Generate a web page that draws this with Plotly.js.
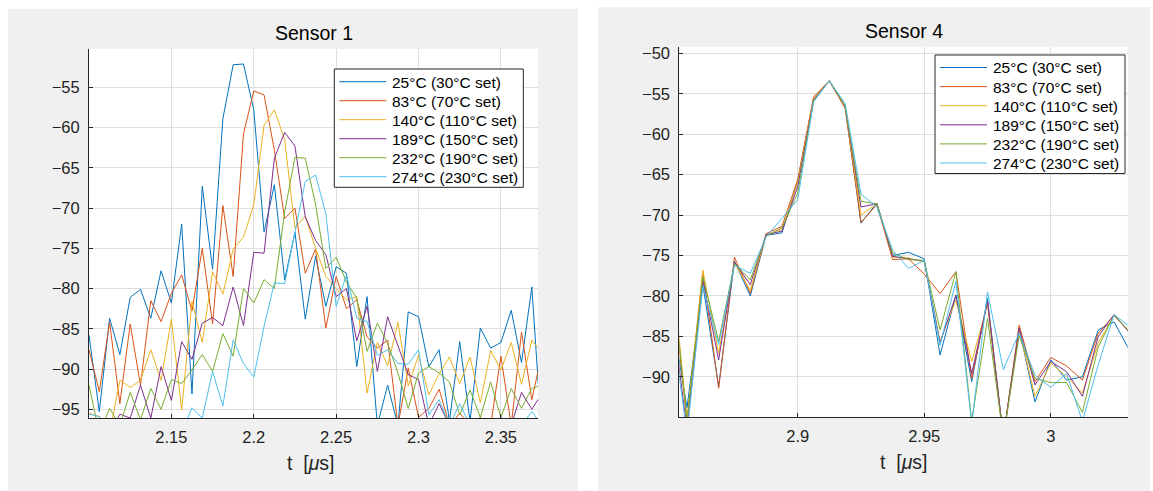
<!DOCTYPE html>
<html>
<head>
<meta charset="utf-8">
<script src="https://cdn.plot.ly/plotly-3.0.1.min.js"></script>
<style>
html,body{margin:0;padding:0;background:#ffffff;}
#chart{width:1153px;height:491px;}
</style>
</head>
<body>
<div id="chart"></div>
<script>
// ---------- data ----------
const seriesNames = ['25°C (30°C set)','83°C (70°C set)','140°C (110°C set)','189°C (150°C set)','232°C (190°C set)','274°C (230°C set)'];
const seriesColors = ['#0072BD','#D95319','#EDB120','#7E2F8E','#77AC30','#4DBEEE'];

// Sensor 1 time samples [µs]
const tSensor1 = [2.1,2.10625,2.1125,2.11875,2.125,2.13125,2.1375,2.14375,2.15,2.15625,2.1625,2.16875,2.175,2.18125,2.1875,2.19375,2.2,2.20625,2.2125,2.21875,2.225,2.23125,2.2375,2.24375,2.25,2.25625,2.2625,2.26875,2.275,2.28125,2.2875,2.29375,2.3,2.30625,2.3125,2.31875,2.325,2.33125,2.3375,2.34375,2.35,2.35625,2.3625,2.36875,2.375];

const s1_25C  = [-85.8,-95.3,-83.7,-88.2,-81.1,-80.1,-83.7,-77.8,-81.8,-72.0,-93.1,-67.3,-77.6,-58.9,-52.2,-52.1,-57.8,-73.0,-67.1,-78.9,-73.0,-83.8,-76.0,-82.2,-77.3,-78.1,-89.7,-81.0,-97.0,-92.0,-97.0,-82.9,-83.5,-89.7,-87.6,-96.5,-86.6,-96.5,-84.9,-87.4,-86.7,-82.7,-89.2,-79.8,-99.0];
const s1_83C  = [-87.6,-92.8,-84.2,-94.3,-84.4,-92.0,-81.5,-84.1,-80.6,-78.3,-82.8,-75.0,-84.4,-69.7,-78.5,-60.8,-55.45,-55.95,-62.8,-71.3,-70.0,-78.1,-75.1,-84.9,-78.5,-82.5,-81.4,-86.0,-87.4,-86.4,-97.0,-89.9,-96.0,-94.9,-92.5,-97.0,-95.5,-97.0,-96.0,-97.0,-88.4,-97.0,-85.4,-93.8,-88.0];
const s1_140C = [-95.5,-95.9,-98.0,-91.4,-92.3,-91.4,-87.6,-91.4,-83.8,-95.1,-81.6,-86.7,-77.9,-80.7,-75.1,-73.6,-69.6,-59.7,-57.8,-61.5,-72.5,-71.0,-75.0,-78.5,-80.0,-81.4,-81.0,-93.0,-86.7,-89.6,-84.2,-92.1,-88.3,-93.2,-90.6,-88.5,-91.8,-88.5,-94.2,-87.7,-90.1,-86.7,-91.9,-86.4,-88.0];
const s1_189C = [-98.0,-98.0,-98.0,-95.6,-96.1,-92.0,-96.1,-89.7,-93.9,-86.6,-88.8,-84.3,-83.6,-84.6,-79.8,-84.6,-75.5,-75.6,-63.8,-60.6,-62.3,-71.1,-74.0,-75.8,-81.0,-80.0,-86.5,-82.2,-90.3,-83.5,-87.2,-90.7,-91.3,-97.0,-94.3,-97.0,-98.0,-97.0,-98.0,-97.0,-96.0,-97.0,-92.9,-95.0,-93.0];
const s1_232C = [-92.0,-98.0,-94.9,-97.0,-92.9,-96.3,-92.4,-95.0,-91.3,-91.8,-90.1,-88.2,-90.3,-85.6,-88.4,-80.0,-81.8,-78.9,-80.0,-70.5,-63.7,-63.8,-69.5,-77.5,-76.1,-79.2,-81.2,-87.8,-84.3,-86.8,-90.5,-94.9,-90.5,-89.7,-90.5,-91.6,-95.7,-92.6,-96.0,-91.6,-96.0,-92.4,-94.9,-92.4,-92.0];
const s1_274C = [-95.6,-95.9,-98.0,-98.0,-98.0,-98.0,-98.0,-98.0,-98.0,-98.0,-94.8,-96.1,-90.3,-94.6,-86.4,-89.3,-91.0,-84.7,-79.3,-79.4,-73.0,-66.7,-65.9,-70.7,-82.2,-78.3,-83.7,-84.1,-88.3,-87.6,-89.3,-89.4,-87.6,-95.7,-93.8,-97.0,-94.3,-97.0,-96.5,-97.0,-96.0,-97.0,-97.0,-95.3,-97.0];

// Sensor 4 time samples [µs]
const tSensor4 = [2.85,2.85625,2.8625,2.86875,2.875,2.88125,2.8875,2.89375,2.9,2.90625,2.9125,2.91875,2.925,2.93125,2.9375,2.94375,2.95,2.95625,2.9625,2.96875,2.975,2.98125,2.9875,2.99375,3.0,3.00625,3.0125,3.01875,3.025,3.03125];

const s4_25C  = [-82.0,-93.8,-78.6,-91.2,-75.7,-80.0,-72.5,-72.2,-65.8,-55.6,-53.4,-56.6,-71.0,-68.5,-75.0,-74.6,-75.4,-87.3,-79.9,-90.6,-80.3,-97.5,-84.0,-93.1,-87.9,-90.4,-90.0,-84.2,-83.2,-86.8];
const s4_83C  = [-77.1,-95.5,-77.0,-91.4,-75.2,-79.7,-72.3,-71.4,-65.6,-55.4,-53.4,-56.8,-70.9,-68.7,-75.5,-75.4,-77.3,-79.7,-77.0,-90.2,-80.7,-97.5,-83.6,-90.6,-87.6,-88.65,-90.4,-84.6,-82.4,-84.5];
const s4_140C = [-75.1,-95.3,-76.8,-87.1,-75.9,-79.3,-72.4,-71.8,-66.0,-55.6,-53.4,-56.7,-70.0,-68.6,-75.2,-75.3,-75.8,-85.6,-80.5,-88.1,-81.0,-97.5,-84.2,-92.4,-88.3,-90.0,-92.0,-85.8,-82.4,-84.5];
const s4_189C = [-81.2,-96.5,-78.0,-87.9,-75.8,-78.6,-72.4,-72.0,-66.5,-55.8,-53.4,-56.6,-69.0,-68.6,-75.1,-75.4,-75.7,-85.8,-79.9,-89.6,-80.7,-97.5,-84.0,-91.0,-88.1,-89.35,-92.4,-85.0,-82.3,-84.6];
const s4_232C = [-76.1,-95.5,-77.6,-85.6,-76.0,-78.0,-72.6,-71.6,-67.3,-55.9,-53.4,-56.5,-68.3,-68.6,-74.7,-75.5,-75.6,-84.2,-77.0,-95.5,-82.8,-97.5,-84.9,-90.2,-90.7,-90.7,-94.4,-86.3,-82.4,-84.4];
const s4_274C = [-82.7,-97.0,-78.8,-86.0,-76.2,-77.2,-72.7,-70.4,-68.1,-56.0,-53.4,-56.2,-67.4,-69.0,-74.3,-76.6,-75.6,-86.1,-78.2,-95.8,-79.5,-89.1,-84.6,-89.8,-91.3,-89.6,-95.5,-88.5,-82.3,-83.8];

// ticks
const s1XTicks = [2.15,2.2,2.25,2.3,2.35];
const s1XTickText = ['2.15','2.2','2.25','2.3','2.35'];
const s1YTicks = [-95,-90,-85,-80,-75,-70,-65,-60,-55];
const s4XTicks = [2.9,2.95,3];
const s4XTickText = ['2.9','2.95','3'];
const s4YTicks = [-90,-85,-80,-75,-70,-65,-60,-55,-50];

const sensor1Series = [s1_25C,s1_83C,s1_140C,s1_189C,s1_232C,s1_274C];
const sensor4Series = [s4_25C,s4_83C,s4_140C,s4_189C,s4_232C,s4_274C];

// ---------- figure ----------
const FONT = 'Arial, "Liberation Sans", Helvetica, sans-serif';
const AX = '#262626';
const minusText = v => v.map(n => (n < 0 ? '\u2212' : '') + Math.abs(n));

const traces = [];
sensor1Series.forEach((ys, i) => traces.push({
  type:'scatter', mode:'lines', x:tSensor1, y:ys, name:seriesNames[i],
  xaxis:'x', yaxis:'y', showlegend:false,
  line:{color:seriesColors[i], width:1}, hoverinfo:'skip'
}));
sensor4Series.forEach((ys, i) => traces.push({
  type:'scatter', mode:'lines', x:tSensor4, y:ys, name:seriesNames[i],
  xaxis:'x2', yaxis:'y2', showlegend:false,
  line:{color:seriesColors[i], width:1}, hoverinfo:'skip'
}));

const W = 1153, H = 491;
const px = v => v / W;
const py = v => 1 - v / H;

function axisBase(extra){
  return Object.assign({
    ticks:'inside', ticklen:4, tickwidth:1, tickcolor:AX,
    showline:true, linecolor:AX, linewidth:1, mirror:false,
    showgrid:true, gridcolor:'#dedede', gridwidth:1,
    zeroline:false, fixedrange:true,
    tickfont:{family:FONT, size:16.5, color:'#1f1f1f'}
  }, extra);
}

const shapes = [
  {type:'rect', xref:'paper', yref:'paper', x0:px(8), x1:px(578), y0:0, y1:py(9),
   fillcolor:'#f0f0f0', line:{width:0}, layer:'below'},
  {type:'rect', xref:'paper', yref:'paper', x0:px(598), x1:px(1150), y0:0, y1:py(7),
   fillcolor:'#f0f0f0', line:{width:0}, layer:'below'},
  {type:'rect', xref:'x domain', yref:'y domain', x0:0, x1:1, y0:0, y1:1,
   fillcolor:'#ffffff', line:{width:0}, layer:'below'},
  {type:'rect', xref:'x2 domain', yref:'y2 domain', x0:0, x1:1, y0:0, y1:1,
   fillcolor:'#ffffff', line:{width:0}, layer:'below'}
];

const annotations = [
  {text:'Sensor 1', xref:'paper', yref:'paper', x:px(313.5), y:py(33), xanchor:'center', yanchor:'middle',
   showarrow:false, font:{family:FONT, size:19.5, color:'#000000'}},
  {text:'Sensor 4', xref:'paper', yref:'paper', x:px(903.5), y:py(31.5), xanchor:'center', yanchor:'middle',
   showarrow:false, font:{family:FONT, size:19.5, color:'#000000'}},
  {text:'t\u00A0\u00A0[<i>\u03BC</i>s]', xref:'paper', yref:'paper', x:px(310.5), y:py(463), xanchor:'center', yanchor:'middle',
   showarrow:false, font:{family:FONT, size:19.5, color:AX}},
  {text:'t\u00A0\u00A0[<i>\u03BC</i>s]', xref:'paper', yref:'paper', x:px(903.5), y:py(462), xanchor:'center', yanchor:'middle',
   showarrow:false, font:{family:FONT, size:19.5, color:AX}}
];

// legend boxes (drawn with shapes + text annotations)
function addLegend(boxL, boxT, boxR, boxB, row0, rowStep){
  shapes.push({type:'rect', xref:'paper', yref:'paper', x0:px(boxL), x1:px(boxR), y0:py(boxB), y1:py(boxT),
    fillcolor:'#ffffff', line:{color:AX, width:1}, layer:'above'});
  seriesNames.forEach((nm, i) => {
    const yy = row0 + i*rowStep;
    shapes.push({type:'line', xref:'paper', yref:'paper', x0:px(boxL+5), x1:px(boxL+52), y0:py(yy), y1:py(yy),
      line:{color:seriesColors[i], width:1}, layer:'above'});
    annotations.push({text:nm, xref:'paper', yref:'paper', x:px(boxL+55.5), y:py(yy+0.5), xanchor:'left', yanchor:'middle',
      showarrow:false, font:{family:FONT, size:15.5, color:'#000000'}});
  });
}
addLegend(334.3, 69, 523.3, 187.3, 81.7, 19.0);
addLegend(935, 55, 1125, 173.5, 67.5, 19.1);

const layout = {
  width:W, height:H,
  margin:{l:0,r:0,t:0,b:0,pad:0},
  paper_bgcolor:'#ffffff', plot_bgcolor:'#ffffff',
  font:{family:FONT, size:15, color:AX},
  showlegend:false,
  xaxis: axisBase({domain:[px(89),px(538)], range:[2.1,2.3725], anchor:'y',
    tickmode:'array', tickvals:s1XTicks, ticktext:s1XTickText, ticklabelstandoff:4}),
  yaxis: axisBase({domain:[py(418.3),py(49)], range:[-96.12,-50.24], anchor:'x',
    tickmode:'array', tickvals:s1YTicks, ticktext:minusText(s1YTicks), ticklabelstandoff:5}),
  xaxis2: axisBase({domain:[px(679.3),px(1127.7)], range:[2.8532,3.0304], anchor:'y2',
    tickmode:'array', tickvals:s4XTicks, ticktext:s4XTickText, ticklabelstandoff:4}),
  yaxis2: axisBase({domain:[py(417.3),py(46.7)], range:[-95.0,-49.18], anchor:'x2',
    tickmode:'array', tickvals:s4YTicks, ticktext:minusText(s4YTicks), ticklabelstandoff:5}),
  shapes:shapes,
  annotations:annotations
};

Plotly.newPlot('chart', traces, layout, {staticPlot:true, displayModeBar:false});
</script>
</body>
</html>
